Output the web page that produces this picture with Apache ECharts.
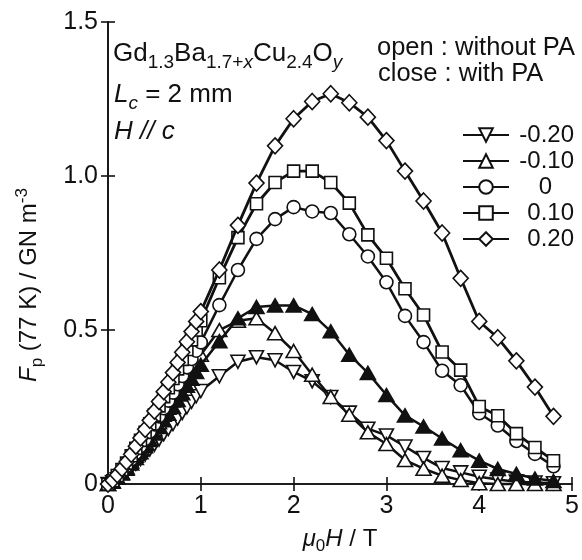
<!DOCTYPE html>
<html><head><meta charset="utf-8">
<script src="https://cdn.jsdelivr.net/npm/echarts@6/dist/echarts.min.js"></script>
<style>html,body{margin:0;padding:0;background:#fff}#c{width:582px;height:560px}</style>
</head><body><div id="c"></div>
<script>
// Magnetic field mu0H / T
const fields = [0,0.05,0.1,0.15,0.2,0.25,0.3,0.35,0.4,0.45,0.5,0.55,0.6,0.65,0.7,0.75,0.8,0.85,0.9,0.95,1.0,
  1.2,1.4,1.6,1.8,2.0,2.2,2.4,2.6,2.8,3.0,3.2,3.4,3.6,3.8,4.0,4.2,4.4,4.6,4.8];
const xTicks = [0,1,2,3,4,5];
const yTicks = [0,0.5,1.0,1.5];
const legendLabels = ['-0.20','-0.10','0','0.10','0.20'];
// Fp (77 K) / GN m^-3
const fpM020 = [0,0.006,0.016,0.027,0.039,0.052,0.066,0.081,0.096,0.112,0.128,0.145,0.162,0.179,0.195,0.213,0.231,0.249,0.267,0.285,0.302,
  0.35,0.397,0.412,0.402,0.364,0.334,0.283,0.232,0.18,0.158,0.122,0.085,0.052,0.038,0.024,0.015,0.008,0.005,0.003];
const fpM010 = [0,0.009,0.022,0.037,0.054,0.073,0.092,0.112,0.133,0.155,0.178,0.201,0.225,0.248,0.271,0.296,0.321,0.346,0.371,0.396,0.42,
  0.50,0.53,0.538,0.49,0.432,0.355,0.283,0.225,0.168,0.13,0.078,0.05,0.027,0.013,0.003,0,0,0,0];
const fpM010PA = [0,0.008,0.021,0.034,0.05,0.067,0.085,0.103,0.123,0.143,0.164,0.185,0.207,0.228,0.25,0.273,0.295,0.319,0.342,0.364,0.387,
  0.464,0.538,0.575,0.58,0.58,0.552,0.496,0.42,0.361,0.289,0.223,0.187,0.148,0.11,0.076,0.049,0.033,0.018,0.01];
const fp000 = [0,0.01,0.025,0.041,0.059,0.08,0.101,0.123,0.146,0.17,0.194,0.22,0.246,0.271,0.297,0.324,0.351,0.379,0.406,0.433,0.46,
  0.581,0.695,0.796,0.86,0.899,0.885,0.88,0.811,0.739,0.655,0.546,0.461,0.368,0.321,0.23,0.19,0.14,0.098,0.058];
const fp010 = [0,0.011,0.028,0.047,0.068,0.092,0.116,0.142,0.168,0.196,0.224,0.254,0.284,0.313,0.343,0.374,0.405,0.437,0.468,0.50,0.53,
  0.67,0.80,0.91,0.979,1.016,1.016,0.979,0.912,0.809,0.733,0.634,0.549,0.429,0.37,0.252,0.222,0.164,0.119,0.076];
const fp020 = [0,0.012,0.03,0.05,0.072,0.097,0.123,0.15,0.178,0.207,0.237,0.268,0.30,0.331,0.362,0.395,0.428,0.462,0.495,0.528,0.56,
  0.695,0.84,0.977,1.098,1.186,1.242,1.267,1.238,1.191,1.115,1.016,0.919,0.815,0.668,0.528,0.475,0.40,0.315,0.22];

const FONT = '"Liberation Sans", Arial, Helvetica, sans-serif';
const INK = '#111';
const chart = echarts.init(document.getElementById('c'), null, {renderer: 'canvas'});

function mk(name, vals, symbol, size, lw, fill, z) {
  return {
    type: 'line', name: name, data: fields.map((x, i) => [x, vals[i]]),
    symbol: symbol, symbolSize: size, showAllSymbol: true, clip: false, z: z,
    lineStyle: {color: INK, width: lw},
    itemStyle: {color: fill, borderColor: INK, borderWidth: 1.6},
    emphasis: {disabled: true}, animation: false
  };
}
const downTri = 'path://M0,0 L10,0 L5,9 Z';

const mainRich = {
  m: {fontSize: 26, fontFamily: FONT, color: INK, lineHeight: 36},
  i: {fontSize: 26, fontFamily: FONT, color: INK, lineHeight: 36, fontStyle: 'italic'},
  s: {fontSize: 19, fontFamily: FONT, color: INK, lineHeight: 18, padding: [18, 0, 0, 0]},
  si: {fontSize: 19, fontFamily: FONT, color: INK, lineHeight: 18, padding: [18, 0, 0, 0], fontStyle: 'italic'},
  t: {fontSize: 25.5, fontFamily: FONT, color: INK, lineHeight: 36}
};
function txt(x, y, text) {
  return {type: 'text', left: x, top: y, silent: true,
    style: {text: text, rich: mainRich, fill: INK, font: '26px ' + FONT}};
}

chart.setOption({
  animation: false,
  backgroundColor: '#fff',
  grid: {left: 108, right: 4, top: 22, bottom: 66, containLabel: false},
  xAxis: [{
    type: 'value', min: xTicks[0], max: xTicks[xTicks.length - 1], interval: 1,
    name: '{i|μ}{s|0}{i|H} / T', nameLocation: 'middle', nameGap: 39,
    nameTextStyle: {rich: {
      i: {fontSize: 24, fontFamily: FONT, color: INK, fontStyle: 'italic', lineHeight: 30},
      m: {fontSize: 24, fontFamily: FONT, color: INK, lineHeight: 30},
      s: {fontSize: 17, fontFamily: FONT, color: INK, lineHeight: 16, padding: [14, 0, 0, 0]}
    }, fontSize: 24, fontFamily: FONT, color: INK},
    axisLine: {lineStyle: {color: INK, width: 1.6}},
    axisTick: {inside: true, length: 7, lineStyle: {color: INK, width: 1.6}},
    axisLabel: {fontSize: 25, fontFamily: FONT, color: INK, margin: 10},
    splitLine: {show: false}
  }, {
    type: 'value', position: 'top', min: 0, max: 5, interval: 1,
    axisLine: {show: true, lineStyle: {color: INK, width: 1.6}},
    axisTick: {inside: true, length: 7, lineStyle: {color: INK, width: 1.6}},
    axisLabel: {show: false}, splitLine: {show: false}
  }],
  yAxis: [{
    type: 'value', min: yTicks[0], max: yTicks[yTicks.length - 1], interval: 0.5,
    name: '{i|F}{s|p} (77 K) / GN m{u|-3}', nameLocation: 'middle', nameGap: 62,
    nameTextStyle: {rich: {
      i: {fontSize: 24, fontFamily: FONT, color: INK, fontStyle: 'italic', lineHeight: 34},
      m: {fontSize: 24, fontFamily: FONT, color: INK, lineHeight: 34},
      s: {fontSize: 17, fontFamily: FONT, color: INK, lineHeight: 16, padding: [17, 0, 0, 0]},
      u: {fontSize: 17, fontFamily: FONT, color: INK, lineHeight: 20, padding: [0, 0, 14, 0]}
    }, fontSize: 24, fontFamily: FONT, color: INK, padding: [0, 64, 0, 0]},
    axisLine: {show: true, lineStyle: {color: INK, width: 1.6}},
    axisTick: {inside: true, length: 7, lineStyle: {color: INK, width: 1.6}},
    axisLabel: {fontSize: 25, fontFamily: FONT, color: INK, margin: 10,
      formatter: v => v === 0 ? '0' : v.toFixed(1)},
    splitLine: {show: false}
  }, {
    type: 'value', position: 'right', min: 0, max: 1.5, interval: 0.5,
    axisLine: {show: true, lineStyle: {color: INK, width: 1.6}},
    axisTick: {inside: true, length: 7, lineStyle: {color: INK, width: 1.6}},
    axisLabel: {show: false}, splitLine: {show: false}
  }],
  legend: {
    data: legendLabels, orient: 'vertical', left: 457, top: 118,
    itemWidth: 46, itemHeight: 17, itemGap: 2, selectedMode: false,
    formatter: n => n === '0' ? '{z|0}' : '{n|' + n + '}',
    textStyle: {fontSize: 24, fontFamily: FONT, color: INK, rich: {
      n: {fontSize: 24, fontFamily: FONT, color: INK, width: 60, align: 'right'},
      z: {fontSize: 24, fontFamily: FONT, color: INK, width: 38, align: 'right', padding: [0, 22, 0, 0]}
    }}
  },
  graphic: [
    txt(113, 35, '{m|Gd}{s|1.3}{m|Ba}{s|1.7+}{si|x}{m|Cu}{s|2.4}{m|O}{si|y}'),
    txt(114, 76, '{i|L}{si|c}{m| = 2 mm}'),
    txt(114, 119, '{i|H // c}'),
    txt(377, 35, '{t|open : without PA}'),
    txt(378, 61, '{t|close : with PA}')
  ],
  series: [
    mk('-0.20', fpM020, downTri, [14, 13], 2.5, '#fff', 2),
    mk('-0.10', fpM010, 'triangle', [15, 13], 2.5, '#fff', 3),
    mk('with PA', fpM010PA, 'triangle', [15, 13], 2.5, INK, 4),
    mk('0', fp000, 'circle', 13, 2.5, '#fff', 5),
    mk('0.10', fp010, 'rect', 12, 2.8, '#fff', 6),
    mk('0.20', fp020, 'diamond', [15, 16], 2.8, '#fff', 7)
  ]
});
</script></body></html>
